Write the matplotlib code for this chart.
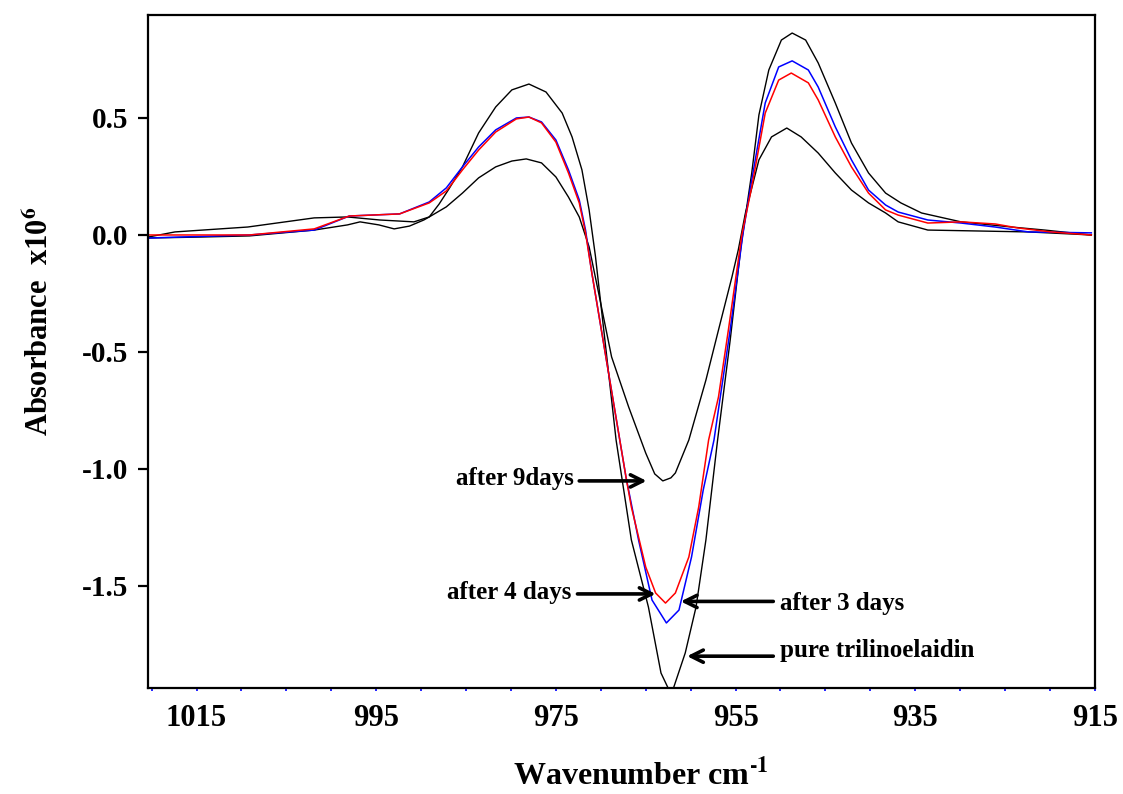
import matplotlib
matplotlib.use('Agg')
import matplotlib.pyplot as plt
from matplotlib.ticker import MultipleLocator, FixedLocator, FormatStrFormatter

plt.rcParams['font.family'] = ['Liberation Serif', 'DejaVu Serif']
plt.rcParams['font.weight'] = 'bold'
plt.rcParams['mathtext.fontset'] = 'stix'
plt.rcParams['axes.unicode_minus'] = False

# ---- data (wavenumber cm-1, absorbance x10^6) ----
pure_wn = [1020.4, 1014.7, 1009.1, 1001.9, 998.2, 996.8, 994.7, 993.0, 991.3, 989.7,
           989.1, 988.0, 986.9, 985.4, 983.6, 981.7, 979.9, 978.0, 976.1, 974.3,
           973.2, 972.1, 971.3, 970.6, 969.6, 968.3, 966.6, 964.7, 963.3, 962.4,
           961.9, 960.6, 959.4, 958.3, 957.0, 955.6, 954.4, 953.2, 952.4, 951.3,
           949.9, 948.7, 947.2, 945.8, 943.9, 942.1, 940.2, 938.3, 936.6, 934.3,
           929.9, 924.3, 920.6, 915.4]
pure_abs = [-0.013, -0.009, -0.004, 0.021, 0.043, 0.056, 0.043, 0.026, 0.038, 0.064,
            0.077, 0.132, 0.197, 0.291, 0.436, 0.547, 0.620, 0.645, 0.611, 0.521,
            0.419, 0.278, 0.107, -0.090, -0.430, -0.876, -1.303, -1.590, -1.872, -1.945,
            -1.935, -1.786, -1.590, -1.303, -0.876, -0.450, -0.050, 0.265, 0.513, 0.705,
            0.833, 0.863, 0.833, 0.735, 0.564, 0.393, 0.265, 0.179, 0.137, 0.094,
            0.056, 0.034, 0.021, 0.000]

day3_wn = [1020.4, 1009.1, 1001.9, 998.0, 992.4, 989.1, 987.2, 985.4, 983.6, 981.7,
           979.4, 978.0, 976.6, 975.0, 973.6, 972.4, 971.7, 971.0, 969.1, 967.2,
           965.8, 964.3, 962.7, 961.3, 959.9, 958.6, 957.4, 956.7, 955.6, 954.2,
           953.2, 951.7, 950.2, 948.7, 946.9, 945.8, 943.9, 942.1, 940.2, 938.3,
           936.9, 933.6, 929.9, 926.1, 922.4, 915.4]
day3_abs = [-0.013, 0.000, 0.021, 0.081, 0.090, 0.141, 0.201, 0.291, 0.376, 0.449,
            0.500, 0.504, 0.483, 0.406, 0.278, 0.150, 0.021, -0.162, -0.598, -1.034,
            -1.303, -1.560, -1.658, -1.603, -1.376, -1.090, -0.876, -0.692, -0.406, 0.000,
            0.235, 0.564, 0.718, 0.744, 0.705, 0.632, 0.462, 0.321, 0.192, 0.128,
            0.098, 0.064, 0.051, 0.034, 0.013, 0.009]

day4_wn = [1020.4, 1009.1, 1001.9, 998.0, 992.4, 989.1, 987.2, 985.4, 983.6, 981.7,
           979.4, 978.0, 976.6, 975.0, 973.6, 972.4, 971.7, 971.0, 969.1, 967.2,
           966.6, 965.0, 963.9, 962.8, 961.7, 960.2, 959.1, 958.0, 956.9, 955.8,
           954.3, 953.2, 951.7, 950.2, 948.8, 946.9, 945.8, 943.9, 942.1, 940.2,
           938.3, 936.9, 933.6, 929.9, 926.1, 923.6, 919.9, 915.4]
day4_abs = [0.000, 0.000, 0.026, 0.081, 0.090, 0.137, 0.188, 0.278, 0.363, 0.440,
            0.496, 0.504, 0.479, 0.397, 0.265, 0.137, 0.009, -0.162, -0.598, -1.034,
            -1.162, -1.419, -1.530, -1.573, -1.530, -1.376, -1.162, -0.876, -0.692, -0.406,
            0.000, 0.205, 0.521, 0.662, 0.692, 0.650, 0.577, 0.419, 0.291, 0.179,
            0.107, 0.085, 0.051, 0.056, 0.047, 0.030, 0.013, 0.000]

day9_wn = [1020.4, 1017.4, 1009.3, 1001.9, 998.2, 994.6, 990.8, 989.1, 987.2, 985.4,
           983.6, 981.7, 979.9, 978.3, 976.6, 975.0, 973.6, 972.4, 971.3, 970.2,
           968.8, 966.9, 965.0, 964.0, 963.1, 962.2, 961.7, 960.2, 958.3, 956.9,
           955.4, 954.7, 953.9, 952.4, 951.0, 949.3, 947.7, 945.8, 943.9, 942.1,
           940.2, 938.3, 936.9, 933.6, 928.0, 922.4, 915.4]
day9_abs = [-0.009, 0.013, 0.034, 0.073, 0.077, 0.064, 0.056, 0.077, 0.120, 0.179,
            0.244, 0.291, 0.316, 0.325, 0.308, 0.248, 0.162, 0.077, -0.051, -0.256,
            -0.521, -0.735, -0.932, -1.021, -1.051, -1.038, -1.017, -0.876, -0.620, -0.406,
            -0.179, -0.064, 0.094, 0.321, 0.419, 0.457, 0.419, 0.350, 0.265, 0.192,
            0.137, 0.094, 0.056, 0.021, 0.017, 0.013, 0.000]

x_major = [1015, 995, 975, 955, 935, 915]
y_major = [-1.5, -1.0, -0.5, 0.0, 0.5]

fig = plt.figure(figsize=(11.23, 7.94), dpi=100)
ax = fig.add_axes([0.1318, 0.1335, 0.8432, 0.8476])

ax.plot(pure_wn, pure_abs, color='black', lw=1.0)
ax.plot(day9_wn, day9_abs, color='black', lw=1.0)
ax.plot(day3_wn, day3_abs, color='#0000FF', lw=1.1)
ax.plot(day4_wn, day4_abs, color='#FF0000', lw=1.1)

ax.set_xlim(1020.4, 915)
ax.set_ylim(-1.936, 0.94)

ax.xaxis.set_major_locator(FixedLocator(x_major))
ax.xaxis.set_minor_locator(MultipleLocator(5))
ax.yaxis.set_major_locator(FixedLocator(y_major))
ax.yaxis.set_major_formatter(FormatStrFormatter('%.1f'))

for s in ax.spines.values():
    s.set_linewidth(1.6)
    s.set_color('black')

ax.tick_params(axis='x', which='both', direction='out', length=2.5, width=1.2,
               color='#0000FF', pad=9, labelsize=22)
ax.tick_params(axis='y', which='major', direction='out', length=7, width=1.6,
               color='black', pad=7, labelsize=21)
for lab in ax.get_xticklabels() + ax.get_yticklabels():
    lab.set_fontweight('bold')

ax.set_xlabel(r'Wavenumber cm$^{\text{-}\mathbf{1}}$', fontsize=23, fontweight='bold')
ax.set_ylabel(r'Absorbance  x10$^{\mathbf{6}}$', fontsize=22, fontweight='bold')
ax.xaxis.set_label_coords(0.52, -0.105)
ax.yaxis.set_label_coords(-0.098, 0.545)

arrow = dict(arrowstyle='->', lw=2.6, color='black', shrinkA=0, shrinkB=0,
             mutation_scale=22)
ax.annotate('', xy=(964.9, -1.051), xytext=(972.4, -1.051), arrowprops=arrow)
ax.text(973.0, -1.04, 'after 9days', ha='right', va='center', fontsize=18,
        fontweight='bold')
ax.annotate('', xy=(963.9, -1.534), xytext=(972.6, -1.534), arrowprops=arrow)
ax.text(973.3, -1.53, 'after 4 days', ha='right', va='center', fontsize=18,
        fontweight='bold')
ax.annotate('', xy=(961.1, -1.566), xytext=(950.8, -1.566), arrowprops=arrow)
ax.text(950.1, -1.575, 'after 3 days', ha='left', va='center', fontsize=18,
        fontweight='bold')
ax.annotate('', xy=(960.4, -1.80), xytext=(950.8, -1.80), arrowprops=arrow)
ax.text(950.1, -1.775, 'pure trilinoelaidin', ha='left', va='center', fontsize=18,
        fontweight='bold')

fig.savefig('out.png', dpi=100)
